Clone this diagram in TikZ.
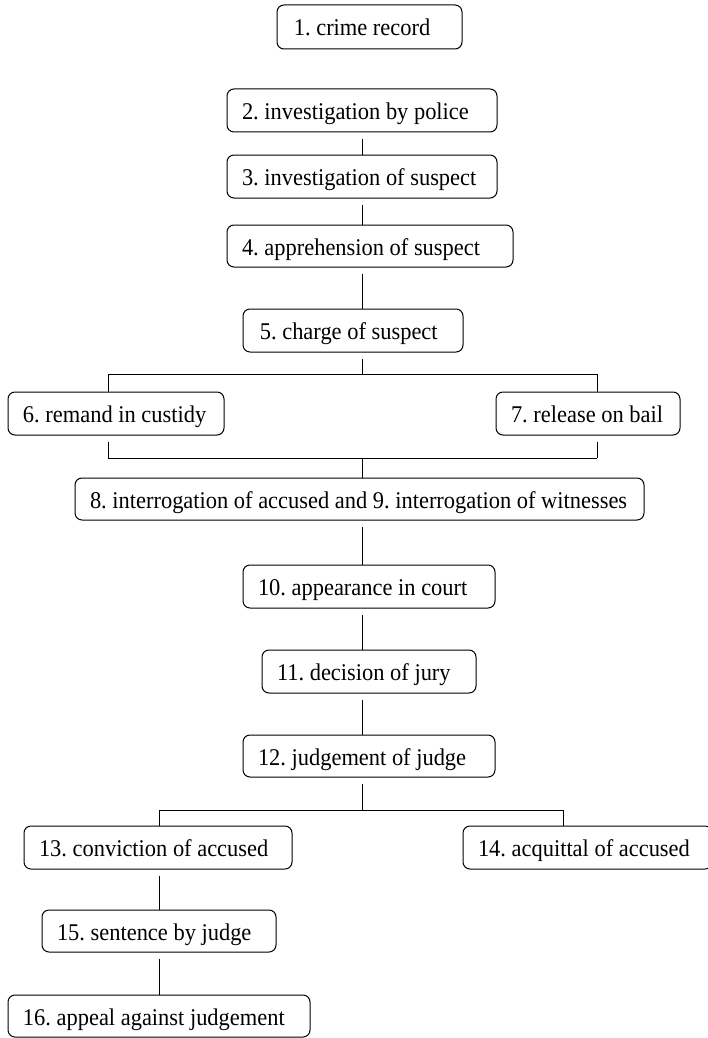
\documentclass[tikz,border=0pt]{standalone}
\usepackage{fontspec}
\setmainfont{Liberation Serif}
\newcommand\boxtxt[2]{\makebox[#1pt][l]{\scalebox{0.935}[1]{#2}}}
\begin{document}
\frenchspacing
\begin{tikzpicture}[x=1pt,y=-1pt,
  box/.style={draw, rounded corners=7pt, line width=1pt, inner xsep=15pt, inner ysep=0pt,
    text height=20pt, text depth=2pt,
    font=\fontsize{24}{27}\selectfont},
  link/.style={line width=1pt},
  gap/.style={shorten <=6pt}]
\useasboundingbox (0,0) rectangle (708,1038);
\node[box, minimum height=44] (n1) at (369.5,27) {\boxtxt{155}{\hspace{2pt}1. crime record}};
\node[box, minimum height=43] (n2) at (362,110.5) {\boxtxt{240}{2. investigation by police}};
\node[box, minimum height=43] (n3) at (362,176.5) {\boxtxt{240}{3. investigation of suspect}};
\node[box, minimum height=42] (n4) at (370,246) {\boxtxt{256}{4. apprehension of suspect}};
\node[box, minimum height=43] (n5) at (353,330.5) {\boxtxt{190}{\hspace{2pt}5. charge of suspect}};
\node[box, minimum height=43] (n6) at (116,413.5) {\boxtxt{186}{6. remand in custidy}};
\node[box, minimum height=43] (n7) at (588,413.5) {\boxtxt{154}{7. release on bail}};
\node[box, minimum height=42] (n8) at (359.5,499) {\boxtxt{539}{8. interrogation of accused and 9. interrogation of witnesses}};
\node[box, minimum height=43] (n10) at (369,586.5) {\boxtxt{222}{10. appearance in court}};
\node[box, minimum height=43] (n11) at (369,671.5) {\boxtxt{184}{11. decision of jury}};
\node[box, minimum height=42] (n12) at (369,756) {\boxtxt{222}{12. judgement of judge}};
\node[box, minimum height=43] (n13) at (158,847.5) {\boxtxt{238}{13. conviction of accused}};
\node[box, minimum height=43] (n14) at (587.5,847.5) {\boxtxt{219}{14. acquittal of accused}};
\node[box, minimum height=42] (n15) at (159,931) {\boxtxt{204}{15. sentence by judge}};
\node[box, minimum height=42] (n16) at (159,1016) {\boxtxt{272}{16. appeal against judgement}};
\coordinate (t) at (362,0);
\coordinate (l1) at (108,0);
\coordinate (r1) at (597,0);
\coordinate (l2) at (159,0);
\coordinate (r2) at (563,0);
\coordinate (f1) at (0,374);
\coordinate (f2) at (0,458);
\coordinate (f3) at (0,810);
\draw[link, gap] (n2.south -| t) -- (n3.north -| t);
\draw[link, gap] (n3.south -| t) -- (n4.north -| t);
\draw[link, gap] (n4.south -| t) -- (n5.north -| t);
\draw[link, gap] (n5.south -| t) -- (f1 -| t);
\draw[link] (n6.north -| l1) -- (f1 -| l1) -- (f1 -| r1) -- (n7.north -| r1);
\draw[link, gap] (n6.south -| l1) -- (f2 -| l1) -- (f2 -| r1);
\draw[link, gap] (n7.south -| r1) -- (f2 -| r1);
\draw[link] (f2 -| t) -- (n8.north -| t);
\draw[link, gap] (n8.south -| t) -- (n10.north -| t);
\draw[link, gap] (n10.south -| t) -- (n11.north -| t);
\draw[link, gap] (n11.south -| t) -- (n12.north -| t);
\draw[link, gap] (n12.south -| t) -- (f3 -| t);
\draw[link] (n13.north -| l2) -- (f3 -| l2) -- (f3 -| r2) -- (n14.north -| r2);
\draw[link, gap] (n13.south -| l2) -- (n15.north -| l2);
\draw[link, gap] (n15.south -| l2) -- (n16.north -| l2);
\end{tikzpicture}
\end{document}
